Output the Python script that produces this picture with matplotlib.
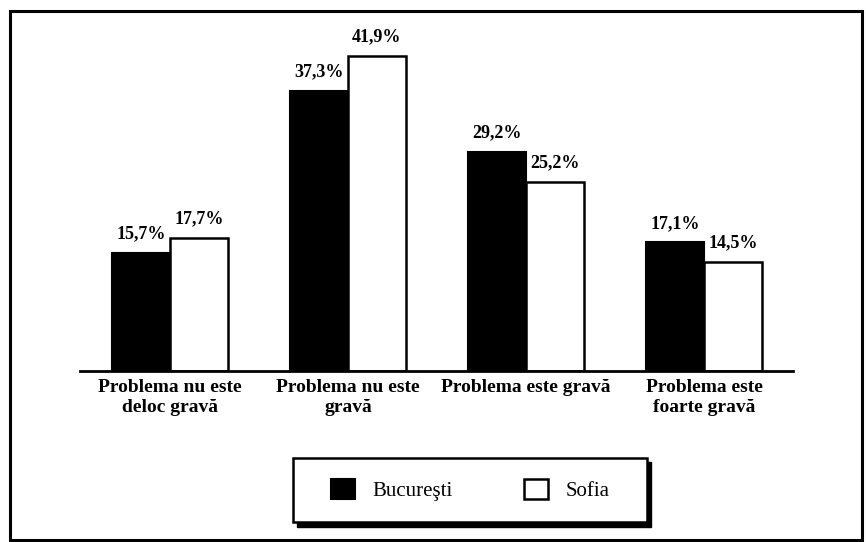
import numpy as np
import matplotlib
matplotlib.use('Agg')
import matplotlib.pyplot as plt
from matplotlib.patches import Rectangle

categories = ['Problema nu este\ndeloc gravă', 'Problema nu este\ngravă',
              'Problema este gravă', 'Problema este\nfoarte gravă']
bucuresti = [15.7, 37.3, 29.2, 17.1]
sofia = [17.7, 41.9, 25.2, 14.5]
series_names = ['Bucureşti', 'Sofia']

plt.rcParams['font.family'] = ['Liberation Serif', 'DejaVu Serif']

fig = plt.figure(figsize=(8.66, 5.42), dpi=100)
W, H = 866, 542

def fig_rect(x0, y0, x1, y1, **kw):
    # rectangle given in pixel coords from the top-left corner
    return Rectangle((x0 / W, 1 - y1 / H), (x1 - x0) / W, (y1 - y0) / H,
                     transform=fig.transFigure, **kw)

# outer frame
fig.patches.append(fig_rect(10, 11, 862, 540, fill=False, edgecolor='black', linewidth=2.2))

ax = fig.add_axes([80 / W, (H - 371) / H, 713 / W, 351 / H])
x = np.arange(len(categories))
w = 0.325

b1 = ax.bar(x - w / 2, bucuresti, w, color='black', edgecolor='black', linewidth=1.5,
            label=series_names[0])
b2 = ax.bar(x + w / 2, sofia, w, color='white', edgecolor='black', linewidth=1.8,
            label=series_names[1])

for bars, vals in [(b1, bucuresti), (b2, sofia)]:
    for rect, v in zip(bars, vals):
        ax.text(rect.get_x() + rect.get_width() / 2, v + 1.4, f"{v:.1f}%".replace('.', ','),
                ha='center', va='bottom', fontsize=13, fontweight='bold')

ax.set_xlim(-0.506, 3.5)
ax.set_ylim(0, 46.7)
ax.set_xticks(x)
ax.set_xticklabels(categories, fontsize=14, fontweight='bold', linespacing=1.2)
ax.tick_params(axis='x', length=0, pad=6)
ax.set_yticks([])
for s in ['top', 'right', 'left']:
    ax.spines[s].set_visible(False)
ax.spines['bottom'].set_linewidth(2)

# legend box with a solid shadow, as in the original
fig.patches.append(fig_rect(297, 462, 651, 527, facecolor='black', edgecolor='black'))
fig.patches.append(fig_rect(293, 458, 647, 522, facecolor='white', edgecolor='black',
                            linewidth=1.8))
leg = fig.legend(handles=[b1, b2], labels=series_names, loc='center',
                 bbox_to_anchor=(470 / W, (H - 490) / H), ncol=2, fontsize=15,
                 frameon=False, handlelength=1.15, handleheight=1.15, columnspacing=3.4,
                 handletextpad=0.85, borderaxespad=0)

fig.savefig('out.png', dpi=100)
